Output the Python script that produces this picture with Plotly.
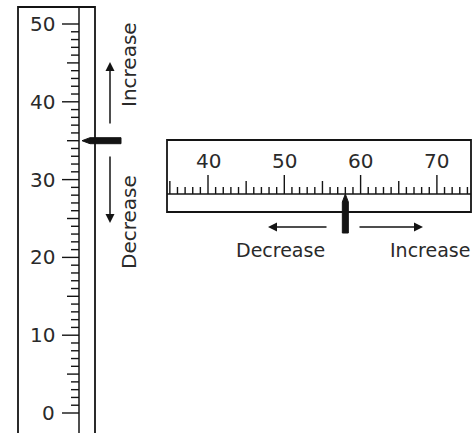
import plotly.graph_objects as go

# ---------------- data ----------------
vertical_scale_min = 0
vertical_scale_max = 50
vertical_labels = [0, 10, 20, 30, 40, 50]
vertical_reading = 35

horizontal_scale_min = 35
horizontal_scale_max = 74
horizontal_labels = [40, 50, 60, 70]
horizontal_reading = 58

direction_words = ["Increase", "Decrease"]

# ---------------- layout helpers ----------------
W, H = 475, 433
INK = "#141414"
TEXT_INK = "#2a2a2a"
FONT = "DejaVu Sans"
WEIGHT = "normal"


def px_x(p):
    return p / W


def px_y(p):
    return 1 - p / H


def font(size):
    return dict(family=FONT, size=size, color=TEXT_INK, weight=WEIGHT)


# vertical scale: value -> pixel  (px = 413 - 7.78 v)
V_PX0, V_SLOPE = 413.0, 7.78
# horizontal scale: value -> pixel (px = 208 + 7.63 (v-40))
H_PX40, H_SLOPE = 208.0, 7.63

y_range = [(V_PX0 - H) / V_SLOPE, V_PX0 / V_SLOPE]
x_range = [40 - H_PX40 / H_SLOPE, 40 + (W - H_PX40) / H_SLOPE]

shapes = []
annotations = []

# ---------- vertical instrument ----------
shapes.append(dict(type="rect", xref="paper", yref="paper",
                   x0=px_x(18), x1=px_x(95), y0=px_y(434), y1=px_y(7),
                   line=dict(color=INK, width=1.8)))
shapes.append(dict(type="line", xref="paper", yref="paper",
                   x0=px_x(79), x1=px_x(79), y0=px_y(434), y1=px_y(7),
                   line=dict(color=INK, width=1.5)))
for v in range(vertical_scale_min, vertical_scale_max + 1):
    L = 17 if v % 10 == 0 else (12 if v % 5 == 0 else 8)
    shapes.append(dict(type="line", xref="paper", yref="y",
                       x0=px_x(79 - L), x1=px_x(79), y0=v, y1=v,
                       line=dict(color=INK, width=1.4)))
for v in vertical_labels:
    annotations.append(dict(text=str(v), xref="paper", yref="y",
                            x=px_x(57), y=v, xanchor="right", yanchor="middle",
                            showarrow=False, font=font(20)))

# pointer (horizontal bar with tapered left end)
dy = 3.0 / V_SLOPE
r = vertical_reading
xa, xb, xc = px_x(82), px_x(90), px_x(121)
shapes.append(dict(type="path", xref="paper", yref="y",
                   path=f"M {xa},{r} L {xb},{r + dy} L {xc},{r + dy} L {xc},{r - dy} L {xb},{r - dy} Z",
                   fillcolor=INK, line=dict(color=INK, width=1)))

# arrows
annotations.append(dict(text="", xref="paper", yref="paper", x=px_x(110), y=px_y(62),
                        ax=0, ay=63, showarrow=True, arrowhead=2, arrowsize=1.2,
                        arrowwidth=1.5, arrowcolor=INK))
annotations.append(dict(text="", xref="paper", yref="paper", x=px_x(110), y=px_y(223),
                        ax=0, ay=-68, showarrow=True, arrowhead=2, arrowsize=1.2,
                        arrowwidth=1.5, arrowcolor=INK))
annotations.append(dict(text=direction_words[0], xref="paper", yref="paper",
                        x=px_x(129), y=px_y(65), textangle=-90, showarrow=False,
                        xanchor="center", yanchor="middle", font=font(20)))
annotations.append(dict(text=direction_words[1], xref="paper", yref="paper",
                        x=px_x(129), y=px_y(222), textangle=-90, showarrow=False,
                        xanchor="center", yanchor="middle", font=font(20)))

# ---------- horizontal instrument ----------
shapes.append(dict(type="rect", xref="paper", yref="paper",
                   x0=px_x(167), x1=px_x(471), y0=px_y(212), y1=px_y(140),
                   line=dict(color=INK, width=1.8)))
shapes.append(dict(type="line", xref="paper", yref="paper",
                   x0=px_x(167), x1=px_x(471), y0=px_y(194), y1=px_y(194),
                   line=dict(color=INK, width=1.5)))
for v in range(horizontal_scale_min, horizontal_scale_max + 1):
    L = 19 if v % 10 == 0 else (13 if v % 5 == 0 else 7)
    shapes.append(dict(type="line", xref="x", yref="paper",
                       x0=v, x1=v, y0=px_y(194), y1=px_y(194 - L),
                       line=dict(color=INK, width=1.4)))
for v in horizontal_labels:
    annotations.append(dict(text=str(v), xref="x", yref="paper",
                            x=v, y=px_y(161), xanchor="center", yanchor="middle",
                            showarrow=False, font=font(20)))

# pointer (vertical bar with tapered top)
dx = 3.0 / H_SLOPE
h = horizontal_reading
ya, yb, yc = px_y(194), px_y(202), px_y(233)
shapes.append(dict(type="path", xref="x", yref="paper",
                   path=f"M {h},{ya} L {h + dx},{yb} L {h + dx},{yc} L {h - dx},{yc} L {h - dx},{yb} Z",
                   fillcolor=INK, line=dict(color=INK, width=1)))

annotations.append(dict(text="", xref="paper", yref="paper", x=px_x(268), y=px_y(227),
                        ax=60, ay=0, showarrow=True, arrowhead=2, arrowsize=1.2,
                        arrowwidth=1.5, arrowcolor=INK))
annotations.append(dict(text="", xref="paper", yref="paper", x=px_x(423), y=px_y(227),
                        ax=-65, ay=0, showarrow=True, arrowhead=2, arrowsize=1.2,
                        arrowwidth=1.5, arrowcolor=INK))
annotations.append(dict(text=direction_words[1], xref="paper", yref="paper",
                        x=px_x(280), y=px_y(250), showarrow=False,
                        xanchor="center", yanchor="middle", font=font(19)))
annotations.append(dict(text=direction_words[0], xref="paper", yref="paper",
                        x=px_x(430), y=px_y(250), showarrow=False,
                        xanchor="center", yanchor="middle", font=font(19)))

fig = go.Figure()
fig.add_trace(go.Scatter(x=[None], y=[None], mode="markers", showlegend=False,
                         hoverinfo="skip"))
fig.update_layout(
    width=W, height=H,
    margin=dict(l=0, r=0, t=0, b=0),
    paper_bgcolor="white", plot_bgcolor="white",
    showlegend=False,
    xaxis=dict(range=x_range, visible=False, fixedrange=True),
    yaxis=dict(range=y_range, visible=False, fixedrange=True),
    shapes=shapes,
    annotations=annotations,
)
fig.write_html("out.html", config={"displayModeBar": False},
               post_script="document.body.style.margin='0';document.body.style.overflow='hidden';")
